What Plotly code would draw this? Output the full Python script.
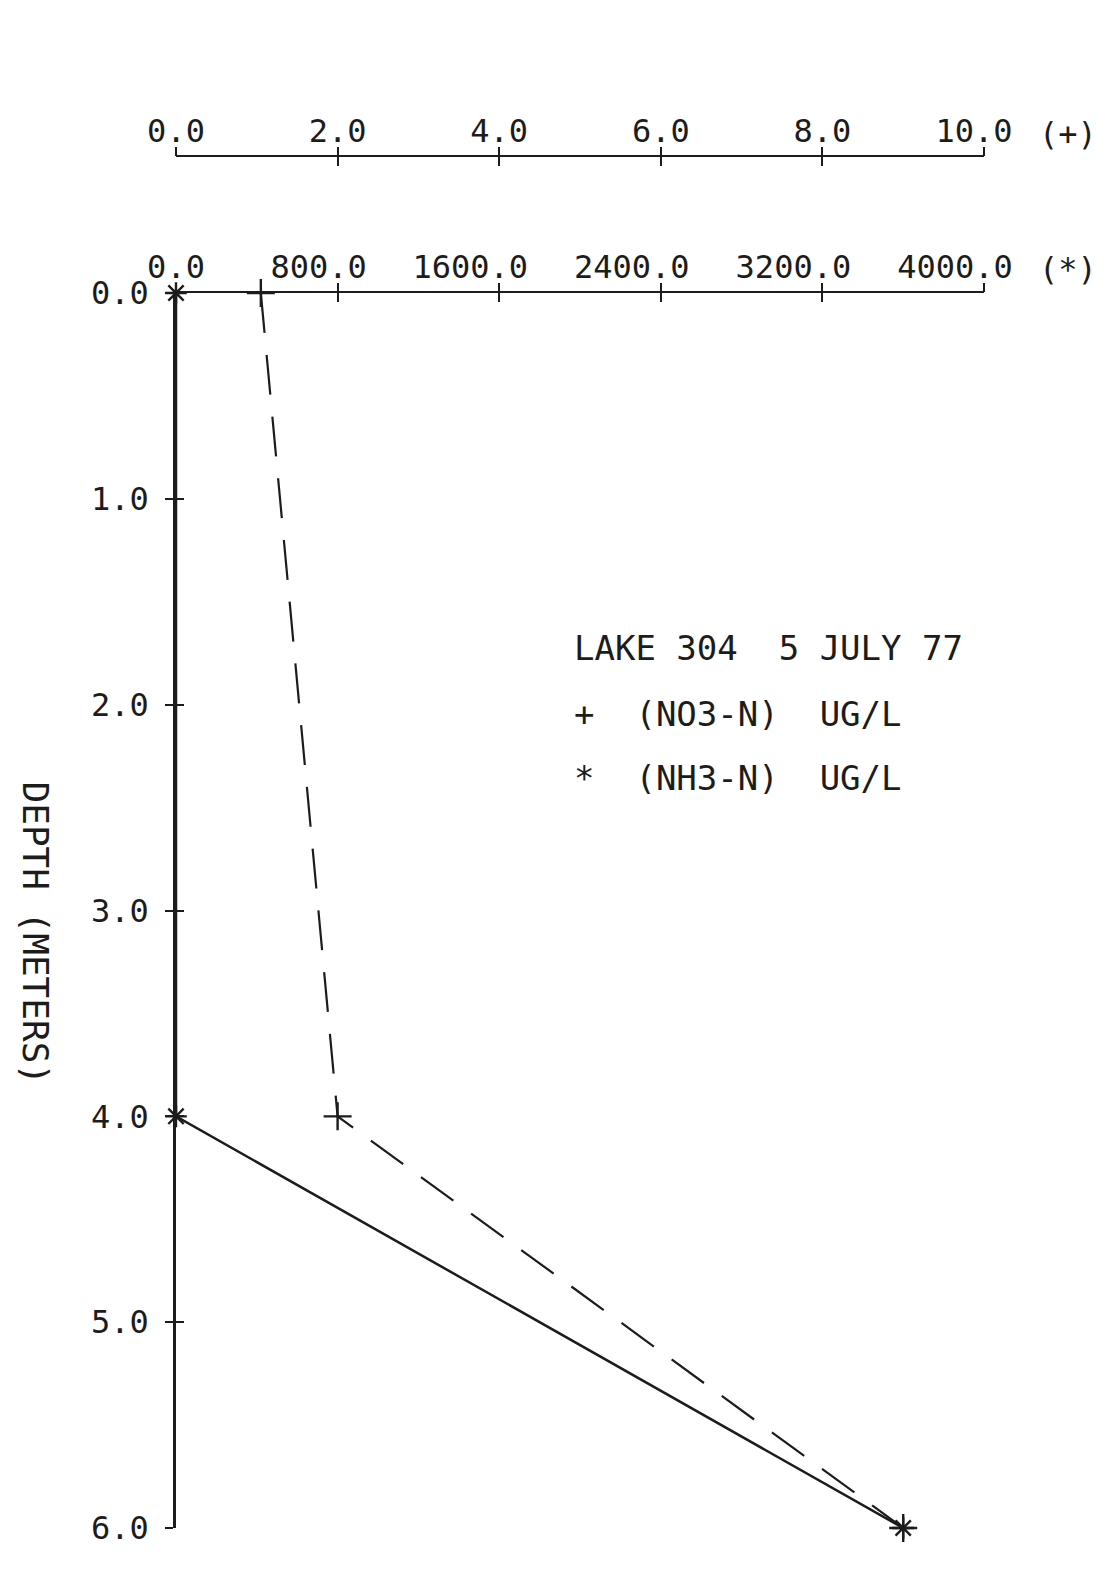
import plotly.graph_objects as go

# ---- data ----
depth = [0.0, 4.0, 6.0]
no3_ugl = [1.05, 2.0, 9.0]          # (+) NO3-N, upper scale 0-10
nh3_ugl = [0.0, 0.0, 3600.0]        # (*) NH3-N, lower scale 0-4000

no3_ticks = [0, 2, 4, 6, 8, 10]
no3_labels = ["0.0", "2.0", "4.0", "6.0", "8.0", "10.0"]
nh3_ticks = [0, 800, 1600, 2400, 3200, 4000]
nh3_labels = ["0.0", "800.0", "1600.0", "2400.0", "3200.0", "4000.0"]
depth_ticks = [0, 1, 2, 3, 4, 5, 6]
depth_labels = ["0.0", "1.0", "2.0", "3.0", "4.0", "5.0", "6.0"]

title_lines = ["LAKE 304  5 JULY 77", "+  (NO3-N)  UG/L", "*  (NH3-N)  UG/L"]

INK = "#1c1c1c"
FONT = "DejaVu Sans Mono"
TICK_SIZE = 32
CHAR_W = 0.602 * TICK_SIZE          # monospace advance width

fig = go.Figure()
fig.add_trace(go.Scatter(
    x=nh3_ugl, y=depth, xaxis="x", yaxis="y", mode="lines+markers",
    line=dict(color=INK, width=2.5),
    marker=dict(symbol="asterisk-open", size=18, line=dict(color=INK, width=2.4)),
    cliponaxis=False, showlegend=False))
fig.add_trace(go.Scatter(
    x=no3_ugl, y=depth, xaxis="x2", yaxis="y", mode="lines+markers",
    line=dict(color=INK, width=2.2, dash="40px,22px"),
    marker=dict(symbol="cross-thin-open", size=20, line=dict(color=INK, width=2.4)),
    cliponaxis=False, showlegend=False))

tickfont = dict(family=FONT, size=TICK_SIZE, color=INK)
layout_axes = {}

# base top axes: line + inward half of every tick
layout_axes["xaxis"] = dict(range=[0, 4000], anchor="y", side="top",
                            tickmode="array", tickvals=nh3_ticks,
                            ticks="inside", ticklen=9, tickwidth=2, tickcolor=INK,
                            showticklabels=False, showline=True, linecolor=INK,
                            linewidth=2, showgrid=False, zeroline=False)
layout_axes["xaxis2"] = dict(range=[0, 10], overlaying="x", anchor="free",
                             position=1, side="top",
                             tickmode="array", tickvals=no3_ticks,
                             ticks="inside", ticklen=9, tickwidth=2, tickcolor=INK,
                             showticklabels=False, showline=True, linecolor=INK,
                             linewidth=2, showgrid=False, zeroline=False)

# label axes: outward half of ticks + labels whose decimal point sits on the tick
next_id = [3]


def add_label_axes(ticks, labels, rng, placement):
    groups = {}
    for t, lbl in zip(ticks, labels):
        left, right = lbl.split(".")
        off = (len(left) - len(right)) / 2.0
        groups.setdefault(off, ([], []))
        groups[off][0].append(t)
        groups[off][1].append(lbl)
    for off, (tv, tt) in groups.items():
        n = next_id[0]
        next_id[0] += 1
        ax = dict(range=rng, overlaying="x", side="top", tickmode="array",
                  tickvals=tv, ticktext=tt, ticks="outside", ticklen=9,
                  tickwidth=2, tickcolor=INK, tickfont=tickfont,
                  ticklabelshift=-round(off * CHAR_W), ticklabelstandoff=-8,
                  showline=False, showgrid=False, zeroline=False, **placement)
        layout_axes[f"xaxis{n}"] = ax
        fig.add_trace(go.Scatter(x=[None], y=[None], xaxis=f"x{n}", yaxis="y",
                                 showlegend=False, hoverinfo="skip"))


add_label_axes(nh3_ticks, nh3_labels, [0, 4000], dict(anchor="y"))
add_label_axes(no3_ticks, no3_labels, [0, 10], dict(anchor="free", position=1))

# depth axis and its inward tick halves
fig.add_trace(go.Scatter(x=[None], y=[None], xaxis="x", yaxis="y2",
                         showlegend=False, hoverinfo="skip"))
layout_axes["yaxis"] = dict(range=[6, 0], domain=[0, 0.9001], anchor="x",
                            tickmode="array", tickvals=depth_ticks,
                            ticktext=depth_labels, showgrid=False, zeroline=False,
                            ticks="outside", ticklen=8, tickwidth=2, tickcolor=INK,
                            showline=True, linecolor=INK, linewidth=2.5,
                            tickfont=tickfont, ticklabelstandoff=10)
layout_axes["yaxis2"] = dict(range=[6, 0], overlaying="y", anchor="x", side="left",
                             tickmode="array", tickvals=depth_ticks, showgrid=False,
                             zeroline=False, ticks="inside", ticklen=8, tickwidth=2,
                             tickcolor=INK, showline=False, showticklabels=False)

fig.update_layout(
    width=1111, height=1575,
    margin=dict(l=168, r=135, t=148, b=55),
    paper_bgcolor="white", plot_bgcolor="white",
    font=dict(family=FONT, color=INK),
    **layout_axes,
)

# axis symbols
fig.add_annotation(text="(+)", xref="paper", yref="paper", x=1.104, y=1.016,
                   xanchor="center", yanchor="middle", showarrow=False,
                   font=dict(family=FONT, size=32, color=INK))
fig.add_annotation(text="(*)", xref="paper", yref="paper", x=1.104, y=0.9176,
                   xanchor="center", yanchor="middle", showarrow=False,
                   font=dict(family=FONT, size=32, color=INK))

# y axis title, reading top to bottom
fig.add_annotation(text="DEPTH (METERS)", xref="paper", yref="paper",
                   x=-0.1745, y=0.434, textangle=90, xanchor="center",
                   yanchor="middle", showarrow=False,
                   font=dict(family=FONT, size=36, color=INK))

# legend block
for txt, yy in zip(title_lines, [0.6414, 0.5933, 0.5466]):
    fig.add_annotation(text=txt.replace(" ", "\u00a0"), xref="paper", yref="paper",
                       x=0.49, y=yy, xanchor="left", yanchor="middle",
                       showarrow=False, font=dict(family=FONT, size=34, color=INK))

fig.write_html("out.html")
